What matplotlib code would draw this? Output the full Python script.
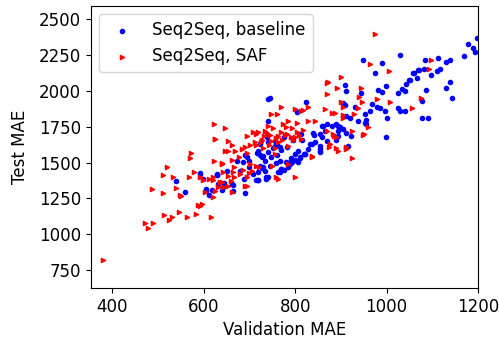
import matplotlib
matplotlib.use("Agg")
import matplotlib.pyplot as plt

# Seq2Seq, baseline (blue)
base_val = [741, 741, 739, 723, 716, 727, 690, 672, 700, 723, 591, 599, 650, 679, 629, 642, 661, 719, 736,
            745, 823, 805, 858, 870, 880, 895, 854, 858, 854, 854, 843, 832, 806, 799, 790, 781, 770, 763,
            745, 734, 741, 741, 760, 719, 722, 719, 730, 760, 785, 715, 737, 806, 810, 820, 766, 755,
            1030, 949, 991, 974, 1057, 1069, 1051, 1042, 1033, 1025, 998, 982, 990, 943, 909, 911, 905,
            910, 931, 967, 978, 985, 996, 963, 1025, 1030, 952, 1001, 920, 912, 938, 952, 955, 898, 890,
            894, 911, 905, 894, 923, 916, 889, 998, 1197, 1178, 1189, 1194, 1170, 1138, 1131, 1112, 1084,
            1082, 1116, 1110, 1097, 1071, 1060, 1066, 1049, 1040, 1087, 1138, 1131, 1142, 1077, 1040,
            1077, 1090, 854, 836, 822, 788, 800, 628, 606, 618, 631, 645, 664, 690, 741, 730, 694, 685,
            766, 775, 539, 559, 591, 606, 612, 629, 641, 664, 688, 718, 956, 894, 861, 854, 788, 770,
            766, 756, 748, 728, 792, 810, 821, 828,
            776, 795, 812, 770, 752, 783, 840, 866, 700, 708, 733, 758, 815, 842, 870]
base_test = [1941, 1791, 1675, 1629, 1564, 1536, 1555, 1513, 1513, 1479, 1425, 1386, 1444, 1444, 1411, 1328,
             1351, 1379, 1386, 1948, 1923, 1849, 1756, 1770, 1756, 1740, 1699, 1680, 1617, 1583, 1640, 1629,
             1583, 1560, 1530, 1502, 1456, 1432, 1479, 1513, 1571, 1640, 1620, 1583, 1550, 1432, 1470, 1550,
             1467, 1379, 1398, 1502, 1530, 1560, 1606, 1650, 2249, 2214, 2191, 2121, 2121, 2145, 2073, 2050,
             2011, 1988, 2034, 2004, 1990, 1988, 2041, 1999, 1918, 1900, 1888, 1907, 1888, 1880, 1860, 1860,
             1879, 1860, 1838, 1814, 1814, 1825, 1791, 1779, 1800, 1745, 1770, 1720, 1703, 1735, 1687, 1687,
             1617, 1659, 1675, 2369, 2323, 2300, 2270, 2240, 2217, 2203, 2226, 2214, 2149, 2149, 2135, 2108,
             2143, 2121, 2092, 2073, 1999, 2006, 2064, 2022, 1953, 1930, 1860, 1814, 1814, 1571, 1630, 1560,
             1490, 1520, 1421, 1317, 1310, 1351, 1360, 1305, 1287, 1398, 1548, 1536, 1502, 1432, 1450, 1371,
             1293, 1421, 1305, 1277, 1416, 1310, 1347, 1384, 1382, 1768, 1756, 1756, 1594, 1502, 1456, 1513,
             1617, 1536, 1463, 1502, 1536, 1560, 1594,
             1680, 1655, 1700, 1590, 1600, 1610, 1705, 1720, 1470, 1420, 1440, 1500, 1660, 1690, 1650]

# Seq2Seq, SAF (red)
saf_val = [379, 471, 488, 478, 513, 530, 523, 546, 564, 584, 615, 597, 591, 588, 486, 510, 549, 551, 539, 520,
           510, 533, 568, 579, 591, 599, 572, 570, 622, 646, 625, 652, 694, 708, 714, 731, 622, 646, 653, 668,
           639, 621, 642, 635, 631, 624, 602, 621, 661, 690, 683, 694, 712, 641, 666, 686, 705, 620, 653, 667,
           694, 611, 639, 659, 642, 653, 694, 661, 701, 664, 680, 700, 624, 869, 891, 869, 900, 770, 799, 812,
           747, 760, 865, 880, 887, 905, 785, 803, 828, 843, 741, 752, 774, 780, 792, 803, 818, 719, 738, 763,
           777, 790, 799, 812, 748, 763, 725, 785, 869, 883, 890, 876, 894, 836, 715, 750, 799, 763, 720, 974,
           963, 1006, 901, 943, 940, 947, 980, 1007, 1055, 938, 905, 928, 885, 925, 960, 949, 912, 890, 1097,
           1093, 1075, 925, 912, 874, 950, 836, 759, 785, 730, 755, 872, 828, 817, 905,
           735, 745, 768, 782, 795, 808, 758, 772, 715, 728, 742, 756, 690, 702, 678, 662]
saf_test = [819, 1078, 1078, 1045, 1132, 1120, 1102, 1155, 1120, 1143, 1120, 1213, 1194, 1201, 1317, 1286,
            1277, 1270, 1324, 1472, 1416, 1402, 1402, 1432, 1402, 1379, 1564, 1532, 1772, 1740, 1661, 1652,
            1685, 1715, 1699, 1685, 1513, 1578, 1578, 1578, 1490, 1379, 1432, 1363, 1328, 1305, 1293, 1259,
            1293, 1340, 1595, 1564, 1640, 1495, 1472, 1449, 1444, 1398, 1409, 1398, 1398, 1386, 1363, 1375,
            1328, 1340, 1340, 1518, 1490, 1432, 1420, 1430, 1664, 2057, 2022, 1976, 1925, 1888, 1872, 1860,
            1838, 1838, 1872, 1842, 1842, 1830, 1791, 1779, 1791, 1791, 1756, 1740, 1768, 1745, 1740, 1710,
            1725, 1710, 1705, 1687, 1692, 1675, 1675, 1665, 1652, 1640, 1645, 1617, 1722, 1699, 1680, 1629,
            1583, 1548, 1479, 1479, 1398, 1386, 1470, 2397, 2184, 2138, 2096, 2022, 1958, 1925, 1942, 1923,
            1879, 1879, 1814, 1838, 1687, 1722, 1745, 1694, 1606, 1600, 2214, 2149, 1953, 1532, 1595, 1611,
            1699, 1541, 1398, 1490, 1600, 1560, 2064, 1884, 1866, 1888,
            1720, 1690, 1710, 1700, 1660, 1690, 1672, 1655, 1620, 1660, 1625, 1600, 1610, 1625, 1540, 1620]

labels = ["Seq2Seq, baseline", "Seq2Seq, SAF"]

plt.rcParams['font.family'] = ['DejaVu Sans']
plt.rcParams['font.size'] = 12

fig = plt.figure(figsize=(4.99, 3.41), dpi=100)
ax = fig.add_axes([0.182, 0.155, 0.776, 0.827])
ax.scatter(base_val, base_test, s=9, c='b', marker='o', label=labels[0], zorder=2)
ax.scatter(saf_val, saf_test, s=9, c='r', marker='>', label=labels[1], zorder=3)
ax.set_xlim(353, 1200)
ax.set_ylim(625, 2590)
ax.set_xticks([400, 600, 800, 1000, 1200])
ax.set_yticks([750, 1000, 1250, 1500, 1750, 2000, 2250, 2500])
ax.set_xlabel("Validation MAE")
ax.set_ylabel("Test MAE", labelpad=7)
ax.legend(loc='upper left')
fig.savefig("out.png", dpi=100)
